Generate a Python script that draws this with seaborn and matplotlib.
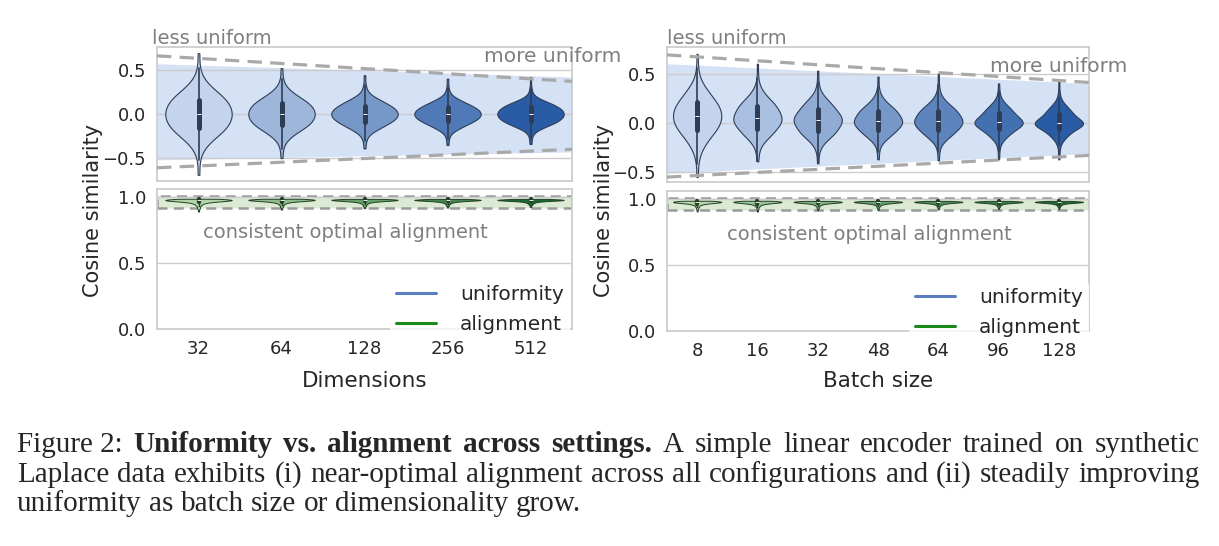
import numpy as np
import matplotlib
matplotlib.use("Agg")
import matplotlib.pyplot as plt
import seaborn as sns
import pandas as pd
from matplotlib.lines import Line2D
from matplotlib.patches import Rectangle

W, H = 1219, 546

# ---------------- data ----------------
dims = ["32", "64", "128", "256", "512"]
batches = ["8", "16", "32", "48", "64", "96", "128"]

# uniformity: cosine-similarity levels per setting (one row per violin) and how many
# samples sit at each level (same profile for all violins, read from the widths)
uni_counts = [1, 1, 2, 6, 11, 15, 17, 18, 17, 15, 11, 6, 2, 1, 1]
uni_dims = [
    [-0.69, -0.52, -0.42, -0.33, -0.24, -0.16, -0.08, 0.00, 0.08, 0.16, 0.24, 0.33, 0.42, 0.52, 0.69],
    [-0.50, -0.40, -0.32, -0.25, -0.18, -0.12, -0.06, 0.00, 0.06, 0.12, 0.18, 0.25, 0.32, 0.40, 0.52],
    [-0.39, -0.31, -0.25, -0.19, -0.14, -0.09, -0.045, 0.00, 0.045, 0.09, 0.14, 0.19, 0.26, 0.33, 0.44],
    [-0.35, -0.28, -0.22, -0.17, -0.125, -0.08, -0.04, 0.00, 0.04, 0.08, 0.125, 0.17, 0.23, 0.30, 0.40],
    [-0.34, -0.27, -0.21, -0.16, -0.12, -0.08, -0.04, 0.00, 0.04, 0.08, 0.12, 0.16, 0.22, 0.30, 0.42],
]
uni_batch = [
    [-0.55, -0.42, -0.33, -0.24, -0.15, -0.07, 0.00, 0.07, 0.14, 0.21, 0.29, 0.37, 0.46, 0.56, 0.70],
    [-0.39, -0.32, -0.25, -0.18, -0.12, -0.06, 0.00, 0.05, 0.11, 0.17, 0.23, 0.30, 0.37, 0.46, 0.60],
    [-0.41, -0.32, -0.25, -0.19, -0.13, -0.08, -0.02, 0.03, 0.08, 0.14, 0.20, 0.26, 0.33, 0.41, 0.53],
    [-0.37, -0.30, -0.23, -0.17, -0.12, -0.07, -0.02, 0.02, 0.07, 0.12, 0.17, 0.23, 0.29, 0.36, 0.47],
    [-0.38, -0.30, -0.23, -0.17, -0.12, -0.07, -0.02, 0.02, 0.07, 0.12, 0.17, 0.23, 0.30, 0.38, 0.50],
    [-0.37, -0.29, -0.22, -0.16, -0.11, -0.06, -0.02, 0.01, 0.05, 0.10, 0.15, 0.20, 0.26, 0.32, 0.40],
    [-0.37, -0.29, -0.22, -0.16, -0.11, -0.06, -0.02, 0.00, 0.04, 0.09, 0.14, 0.19, 0.25, 0.32, 0.42],
]

# alignment: cosine similarity of positive pairs, same idea
align_counts = [1, 2, 3, 5, 9, 14, 20, 16, 6]
align_dims = [
    [0.89, 0.915, 0.935, 0.950, 0.962, 0.970, 0.976, 0.981, 0.986],
    [0.905, 0.925, 0.942, 0.955, 0.965, 0.972, 0.977, 0.982, 0.986],
    [0.915, 0.932, 0.946, 0.957, 0.966, 0.972, 0.977, 0.981, 0.985],
    [0.92, 0.936, 0.949, 0.959, 0.967, 0.973, 0.977, 0.981, 0.985],
    [0.925, 0.94, 0.951, 0.960, 0.968, 0.973, 0.977, 0.981, 0.985],
]
align_batch = [
    [0.905, 0.925, 0.942, 0.955, 0.965, 0.972, 0.977, 0.982, 0.986],
    [0.905, 0.925, 0.942, 0.955, 0.965, 0.972, 0.977, 0.982, 0.986],
    [0.915, 0.932, 0.946, 0.957, 0.966, 0.972, 0.977, 0.981, 0.985],
    [0.915, 0.932, 0.946, 0.957, 0.966, 0.972, 0.977, 0.981, 0.985],
    [0.92, 0.936, 0.949, 0.959, 0.967, 0.973, 0.977, 0.981, 0.985],
    [0.925, 0.94, 0.951, 0.960, 0.968, 0.973, 0.977, 0.981, 0.985],
    [0.925, 0.94, 0.951, 0.960, 0.968, 0.973, 0.977, 0.981, 0.985],
]

# shaded uniformity band and dashed envelope (left end, right end)
band_dims = {"top": (0.57, 0.42), "bot": (-0.52, -0.43)}
env_dims = {"top": (0.66, 0.37), "bot": (-0.61, -0.40)}
band_batch = {"top": (0.60, 0.40), "bot": (-0.51, -0.31)}
env_batch = {"top": (0.69, 0.41), "bot": (-0.55, -0.33)}

caption = [
    [("Figure 2:", "normal"), ("Uniformity", "bold"), ("vs.", "bold"), ("alignment", "bold"),
     ("across", "bold"), ("settings.", "bold"), ("A", "normal"), ("simple", "normal"),
     ("linear", "normal"), ("encoder", "normal"), ("trained", "normal"), ("on", "normal"),
     ("synthetic", "normal")],
    [(w, "normal") for w in "Laplace data exhibits (i) near-optimal alignment across all "
     "configurations and (ii) steadily improving".split()],
    [(w, "normal") for w in "uniformity as batch size or dimensionality grow.".split()],
]


def long_df(cats, levels, counts):
    rows = []
    for c, lv in zip(cats, levels):
        for v in np.repeat(lv, counts):
            rows.append((c, v))
    return pd.DataFrame(rows, columns=["setting", "cos"])


def frac(x0, y0, x1, y1):
    # pixel box (top-left origin) -> figure fraction rect
    return [x0 / W, 1 - y1 / H, (x1 - x0) / W, (y1 - y0) / H]


def fig_xy(x, y):
    return x / W, 1 - y / H


sns.set_theme(style="whitegrid")
plt.rcParams["font.family"] = ["DejaVu Sans"]

fig = plt.figure(figsize=(W / 100, H / 100), dpi=100)

panels = [
    dict(cats=dims, uni=uni_dims, align=align_dims, band=band_dims, env=env_dims,
         up=(157, 47, 572, 181), low=(157, 189, 572, 329), uylim=(-0.76, 0.76),
         xlabel="Dimensions", ylab_x=93, less=(152, 39), more=(484, 57),
         cons=(345, 233), leg=(570, 340)),
    dict(cats=batches, uni=uni_batch, align=align_batch, band=band_batch, env=env_batch,
         up=(667, 47, 1089, 182), low=(667, 191, 1089, 331), uylim=(-0.60, 0.77),
         xlabel="Batch size", ylab_x=604, less=(667, 38), more=(990, 67),
         cons=(869, 235), leg=(1089, 343)),
]

grey_txt = "#7f7f7f"
dash_col = "#a9a9a9"

for p in panels:
    n = len(p["cats"])
    ax_u = fig.add_axes(frac(*p["up"]))
    ax_l = fig.add_axes(frac(*p["low"]))

    # --- uniformity violins ---
    ax_u.fill_between([-0.5, n - 0.5], p["band"]["bot"], p["band"]["top"],
                      color="#5b8ad6", alpha=0.25, lw=0, zorder=0)
    sns.violinplot(data=long_df(p["cats"], p["uni"], uni_counts), x="setting", y="cos",
                   hue="setting", palette=sns.blend_palette(["#c3d4ec", "#2a5ca5"], n),
                   legend=False, ax=ax_u, inner="box", cut=0, density_norm="width",
                   width=0.8, linewidth=0.8, linecolor="#2e3d55", saturation=1)
    for key in ("top", "bot"):
        ax_u.plot([-0.5, n - 0.5], p["env"][key], color=dash_col, lw=2.3,
                  ls=(0, (4.5, 2.6)), zorder=3, solid_capstyle="butt")
    ax_u.set_xlim(-0.5, n - 0.5)
    ax_u.set_ylim(*p["uylim"])
    ax_u.set_yticks([-0.5, 0.0, 0.5])
    ax_u.set_xticks(range(n))
    ax_u.set_xticklabels([])
    ax_u.set_xlabel("")
    ax_u.set_ylabel("")
    ax_u.tick_params(axis="y", labelsize=13, pad=2)

    # --- alignment violins ---
    ax_l.add_patch(Rectangle((-0.5, 0.915), n, 0.095, facecolor="#dce9d3",
                             edgecolor="#9a9a9a", ls=(0, (4, 2.5)), lw=1.8, zorder=0))
    sns.violinplot(data=long_df(p["cats"], p["align"], align_counts), x="setting", y="cos",
                   hue="setting", palette=sns.blend_palette(["#b3d6a6", "#1e6a2c"], n),
                   legend=False, ax=ax_l, inner="box", cut=0, density_norm="width",
                   width=0.8, linewidth=0.7, linecolor="#24402a", saturation=1)
    ax_l.set_xlim(-0.5, n - 0.5)
    ax_l.set_ylim(0, 1.06)
    ax_l.set_yticks([0.0, 0.5, 1.0])
    ax_l.set_yticklabels(["0.0", "0.5", "1.0"])
    ax_l.set_xlabel("")
    ax_l.set_ylabel("")
    ax_l.tick_params(axis="both", labelsize=13, pad=2)

    handles = [Line2D([], [], color="#5a7dbf", lw=2.2),
               Line2D([], [], color="#1b8a1b", lw=2.2)]
    leg = fig.legend(handles, ["uniformity", "alignment"], loc="lower right",
                     bbox_to_anchor=fig_xy(*p["leg"]), fontsize=14.5, frameon=True,
                     handlelength=2.0, handletextpad=1.2, labelspacing=0.55,
                     borderpad=0.3, borderaxespad=0)
    leg.get_frame().set_edgecolor("none")
    leg.get_frame().set_facecolor("white")

    # --- annotations ---
    fig.text(*fig_xy(*p["less"]), "less uniform", color=grey_txt, fontsize=14,
             ha="left", va="center")
    fig.text(*fig_xy(*p["more"]), "more uniform", color=grey_txt, fontsize=14.5,
             ha="left", va="center")
    fig.text(*fig_xy(*p["cons"]), "consistent optimal alignment", color=grey_txt,
             fontsize=14, ha="center", va="center")
    cx = (p["up"][0] + p["up"][2]) / 2
    fig.text(*fig_xy(cx, 381), p["xlabel"], fontsize=15.5, ha="center", va="center")
    fig.text(*fig_xy(p["ylab_x"], 210), "Cosine similarity", fontsize=15,
             rotation=90, ha="center", va="center")

# --- caption, justified like the paper ---
renderer = fig.canvas.get_renderer()
cap_family = ["Liberation Serif", "DejaVu Serif"]
x_left, x_right = 17, 1200
probe = fig.text(0, 0, " ".join(w for w, _ in caption[1]), fontsize=10, family=cap_family)
cap_size = 10 * (x_right - x_left - 8) / probe.get_window_extent(renderer).width
probe.remove()
baselines = [452, 482, 511]
space_px = cap_size * 0.25 * 100 / 72
for i, (words, yb) in enumerate(zip(caption, baselines)):
    texts = [fig.text(0, 1 - yb / H, w, fontsize=cap_size, weight=wt,
                      family=cap_family, va="baseline")
             for w, wt in words]
    widths = [t.get_window_extent(renderer).width for t in texts]
    if i < len(caption) - 1:
        gap = (x_right - x_left - sum(widths)) / (len(texts) - 1)
    else:
        gap = space_px
    x = x_left
    for t, w in zip(texts, widths):
        t.set_x(x / W)
        x += w + gap

fig.savefig("out.png", dpi=100)
